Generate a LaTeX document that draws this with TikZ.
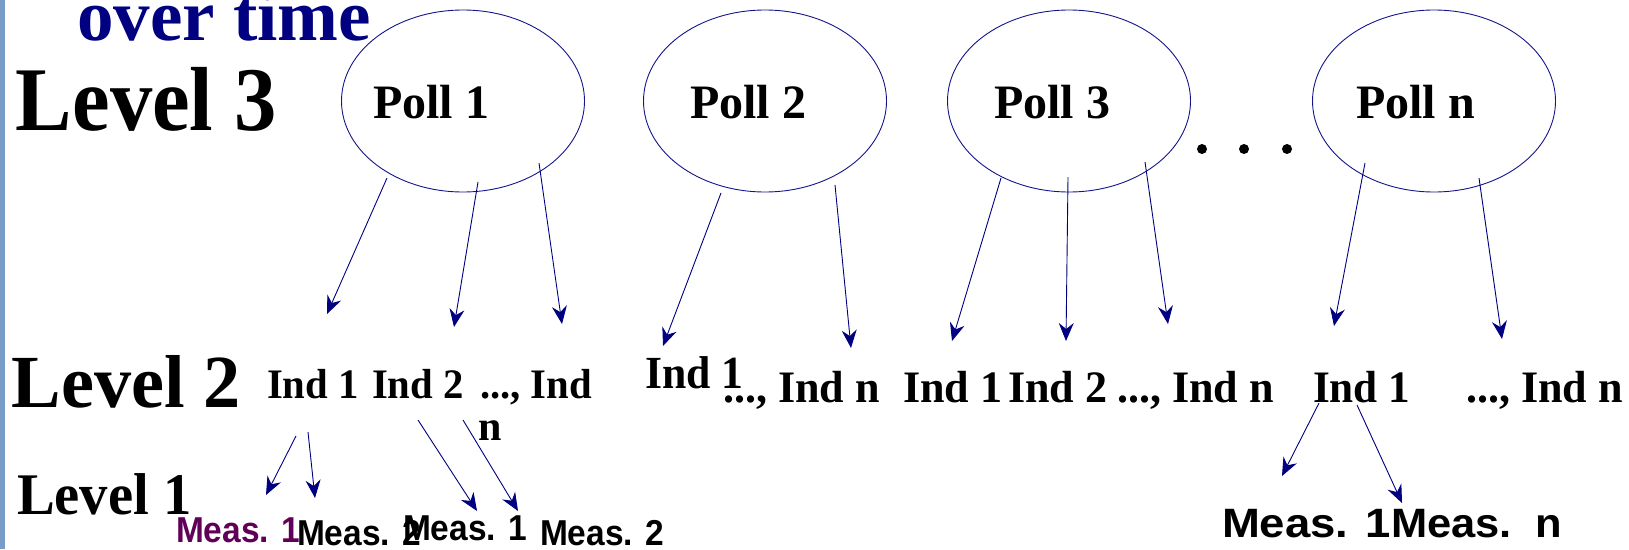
\documentclass[tikz,border=0pt]{standalone}
\usepackage{fontspec}
\setmainfont{Liberation Serif}
\newfontfamily\measfont{Liberation Sans}
\usetikzlibrary{arrows.meta,shapes.geometric}
\definecolor{navyc}{RGB}{0,0,128}
\definecolor{linec}{RGB}{20,20,140}
\definecolor{barc}{RGB}{120,156,200}
\definecolor{purp}{RGB}{96,0,88}
\newcommand\setfs[1]{\fontsize{#1}{#1}\selectfont}
\begin{document}
\begin{tikzpicture}[x=1pt,y=-1pt,
  poll/.style={draw=linec, line width=0.9pt, ellipse, minimum width=243pt, minimum height=182pt, inner sep=0pt},
  txt/.style={anchor=base west, inner sep=0pt, outer sep=0pt},
  lvl/.style={txt, font=\bfseries},
  meas/.style={txt, font=\measfont\bfseries\setfs{36}},
  arr/.style={draw=navyc, line width=0.9pt, -{Stealth[length=18pt,width=15pt,inset=6pt]}}]
\useasboundingbox (0,0) rectangle (1629,549);
\fill[barc] (0,0) rectangle (5,549);
% titles
\node[lvl, text=navyc, font=\bfseries\setfs{73}] (ot) at (77,40) {over time};
\node[lvl, font=\bfseries\setfs{91}] (l3) at (16,130) {\scalebox{0.93}[1]{Level 3}};
\node[lvl, font=\bfseries\setfs{75}] (l2) at (12,407) {\scalebox{0.99}[1]{Level 2}};
\node[lvl, font=\bfseries\setfs{59}] (l1) at (17,514) {\scalebox{0.96}[1]{Level 1}};
% polls
\node[poll] (p1) at (463,101) {};
\node[poll] (p2) at (765,101) {};
\node[poll] (p3) at (1069,101) {};
\node[poll] (pn) at (1434,101) {};
\node[lvl, font=\bfseries\setfs{48}] (p1t) at (373,118) {Poll 1};
\node[lvl, font=\bfseries\setfs{48}] (p2t) at (690,118) {Poll 2};
\node[lvl, font=\bfseries\setfs{48}] (p3t) at (994,118) {Poll 3};
\node[lvl, font=\bfseries\setfs{48}] (pnt) at (1356,118) {Poll n};
% dots
\fill (1202,149) circle (5);
\fill (1244,149) circle (5);
\fill (1287,149) circle (5);
% level 2 labels
\node[lvl, font=\bfseries\setfs{42}] (a1) at (267,398) {\scalebox{0.97}[1]{Ind 1}};
\node[lvl, font=\bfseries\setfs{42}] (a2) at (372,398) {\scalebox{0.97}[1]{Ind 2}};
\node[lvl, font=\bfseries\setfs{42}] (an) at (480,398) {\scalebox{0.97}[1]{..., Ind}};
\node[lvl, font=\bfseries\setfs{42}] (ann) at (478,440) {n};
\node[lvl, font=\bfseries\setfs{46}] (b1) at (645,388) {\scalebox{0.95}[1]{Ind 1}};
\node[lvl, font=\bfseries\setfs{45}] (bn) at (723,402) {\scalebox{0.98}[1]{..., Ind n}};
\node[lvl, font=\bfseries\setfs{45}] (c1) at (903,402) {\scalebox{0.98}[1]{Ind 1}};
\node[lvl, font=\bfseries\setfs{45}] (c2) at (1008,402) {\scalebox{0.98}[1]{Ind 2}};
\node[lvl, font=\bfseries\setfs{45}] (cn) at (1117,402) {\scalebox{0.98}[1]{..., Ind n}};
\node[lvl, font=\bfseries\setfs{45}] (d1) at (1313,402) {\scalebox{0.96}[1]{Ind 1}};
\node[lvl, font=\bfseries\setfs{45}] (dn) at (1466,402) {\scalebox{0.98}[1]{..., Ind n}};
% level 1 labels
\node[meas, text=purp] (m1) at (176,542) {\scalebox{0.93}[1]{Meas. 1}};
\node[meas] (m2) at (297,545) {\scalebox{0.93}[1]{Meas. 2}};
\node[meas] (m3) at (403,540) {\scalebox{0.93}[1]{Meas. 1}};
\node[meas] (m4) at (540,545) {\scalebox{0.93}[1]{Meas. 2}};
\node[meas, font=\measfont\bfseries\setfs{41}] (m5) at (1222,537) {\scalebox{1.11}[1]{Meas. 1}};
\node[meas, font=\measfont\bfseries\setfs{41}] (m6) at (1391,537) {\scalebox{1.06}[1]{Meas.~~n}};
% connector end points
\coordinate (p1s1) at (387,178); \coordinate (a1e) at (327,314);
\coordinate (p1s2) at (478,182); \coordinate (a2e) at (454,327);
\coordinate (p1s3) at (539,163); \coordinate (ane) at (562,324);
\coordinate (p2s1) at (721,193); \coordinate (b1e) at (663,346);
\coordinate (p2s2) at (835,185); \coordinate (bne) at (851,348);
\coordinate (p3s1) at (1001,178); \coordinate (c1e) at (952,341);
\coordinate (p3s2) at (1068,177); \coordinate (c2e) at (1066,341);
\coordinate (p3s3) at (1145,162); \coordinate (cne) at (1168,324);
\coordinate (pns1) at (1365,163); \coordinate (d1e) at (1334,326);
\coordinate (pns2) at (1479,178); \coordinate (dne) at (1502,339);
\coordinate (a1s1) at (296,436); \coordinate (m1e) at (266,495);
\coordinate (a1s2) at (308,432); \coordinate (m2e) at (315,498);
\coordinate (a2s1) at (418,420); \coordinate (m3e) at (477,511);
\coordinate (a2s2) at (463,420); \coordinate (m4e) at (518,511);
\coordinate (d1s1) at (1319,403); \coordinate (m5e) at (1282,476);
\coordinate (d1s2) at (1357,405); \coordinate (m6e) at (1402,503);
% connectors
\draw[arr] (p1s1) -- (a1e);
\draw[arr] (p1s2) -- (a2e);
\draw[arr] (p1s3) -- (ane);
\draw[arr] (p2s1) -- (b1e);
\draw[arr] (p2s2) -- (bne);
\draw[arr] (p3s1) -- (c1e);
\draw[arr] (p3s2) -- (c2e);
\draw[arr] (p3s3) -- (cne);
\draw[arr] (pns1) -- (d1e);
\draw[arr] (pns2) -- (dne);
\draw[arr] (a1s1) -- (m1e);
\draw[arr] (a1s2) -- (m2e);
\draw[arr] (a2s1) -- (m3e);
\draw[arr] (a2s2) -- (m4e);
\draw[arr] (d1s1) -- (m5e);
\draw[arr] (d1s2) -- (m6e);
\end{tikzpicture}
\end{document}
